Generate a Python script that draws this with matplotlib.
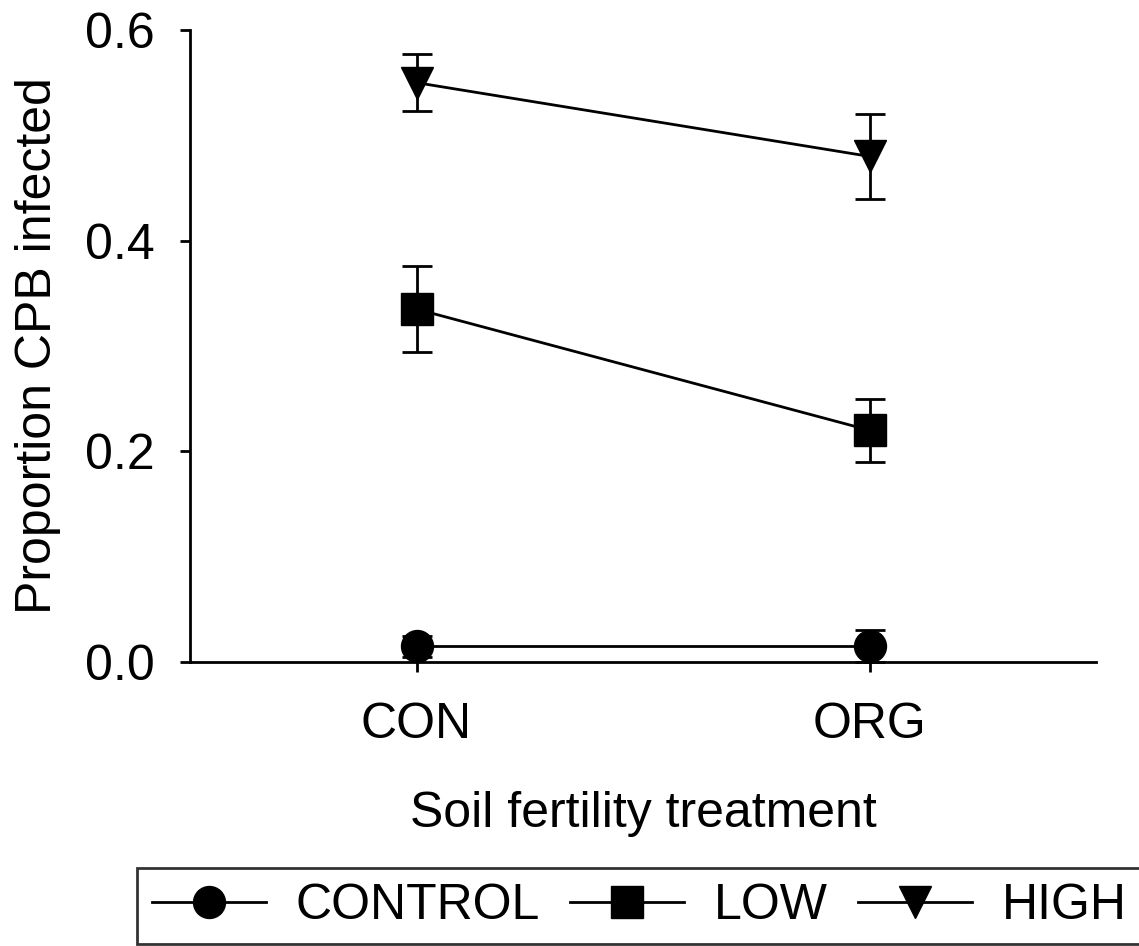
import matplotlib
matplotlib.use("Agg")
import matplotlib.pyplot as plt
from matplotlib.lines import Line2D

plt.rcParams['font.family'] = ['Liberation Sans', 'DejaVu Sans']

# Data
treatments = ["CON", "ORG"]
series_names = ["CONTROL", "LOW", "HIGH"]
control_mean = [0.015, 0.015]
control_err = [0.010, 0.015]
low_mean = [0.335, 0.220]
low_err = [0.041, 0.030]
high_mean = [0.550, 0.480]
high_err = [0.027, 0.040]
y_ticks = [0.0, 0.2, 0.4, 0.6]
y_tick_labels = ["0.0", "0.2", "0.4", "0.6"]

fig = plt.figure(figsize=(11.39, 9.46), dpi=100)
ax = fig.add_axes([190 / 1139, 1 - 662 / 946, 906 / 1139, 632 / 946])

x = list(range(len(treatments)))
markers = ["o", "s", "v"]
means = [control_mean, low_mean, high_mean]
errs = [control_err, low_err, high_err]

for name, m, mean, err in zip(series_names, markers, means, errs):
    ax.errorbar(x, mean, yerr=err, color="black", lw=2.0, marker=m,
                markersize=23, elinewidth=2.0, capsize=11, capthick=2.0,
                clip_on=False, zorder=3, label=name)

ax.set_xlim(-0.5, 1.5)
ax.set_ylim(0, 0.6)
ax.set_xticks(x)
ax.set_xticklabels(treatments)
ax.set_yticks(y_ticks)
ax.set_yticklabels(y_tick_labels)

for side in ["top", "right"]:
    ax.spines[side].set_visible(False)
for side in ["left", "bottom"]:
    ax.spines[side].set_linewidth(2.0)

ax.tick_params(axis="both", direction="out", length=7.5, width=2.0,
               labelsize=36, colors="black")
ax.tick_params(axis="y", pad=18)
ax.tick_params(axis="x", pad=21)

ax.set_ylabel("Proportion CPB infected", fontsize=36, labelpad=17)
ax.set_xlabel("Soil fertility treatment", fontsize=36, labelpad=31)

handles = [Line2D([0], [0], color="black", lw=2.0, marker=m, markersize=23)
           for m in markers]
leg = fig.legend(handles, series_names, loc="lower left",
                 bbox_to_anchor=(137 / 1139, 2 / 946), ncol=3, fontsize=36,
                 frameon=True, fancybox=False, handlelength=2.28,
                 handletextpad=0.58, columnspacing=0.62, borderpad=0.3,
                 borderaxespad=0)
leg.get_frame().set_edgecolor("black")
leg.get_frame().set_linewidth(2.0)

fig.savefig("out.png", dpi=100)
